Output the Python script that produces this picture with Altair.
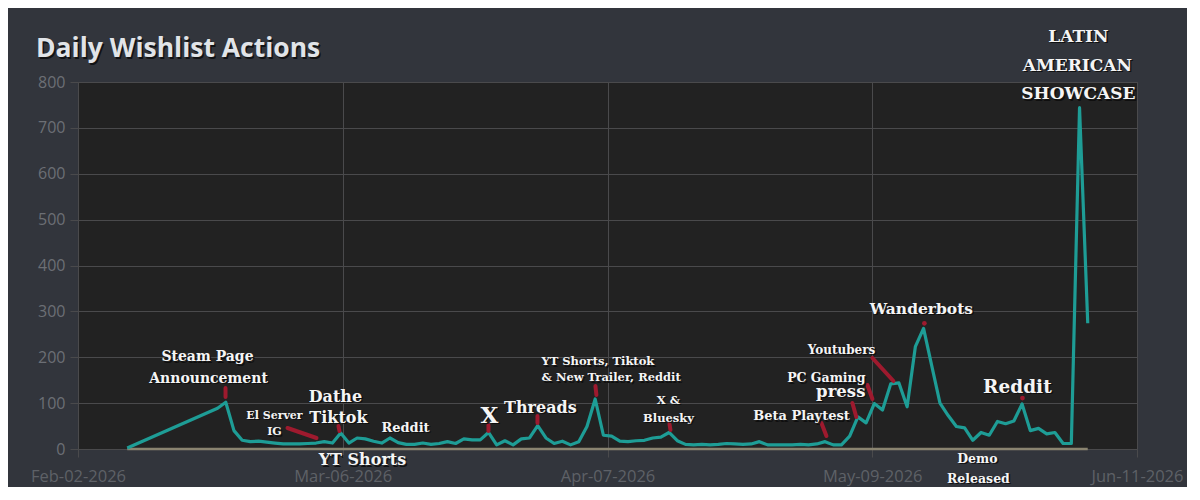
import altair as alt
import pandas as pd

# ---------------- data ----------------
START = pd.Timestamp("2026-02-02")

first_date = ["2026-02-08"]
first_value = [2]
daily_start = "2026-02-19"
daily_values = [
    89, 102, 40, 19, 16, 17, 15, 13, 11, 11, 11, 12, 13, 16, 13, 35, 13, 24, 22, 17,
    13, 24, 14, 10, 10, 13, 10, 12, 16, 12, 22, 20, 20, 36, 9, 18, 9, 22, 24, 51,
    24, 12, 17, 9, 16, 49, 109, 30, 28, 17, 16, 18, 19, 24, 26, 36, 18, 10, 9, 10,
    9, 10, 12, 11, 10, 11, 16, 9, 9, 9, 9, 10, 9, 11, 16, 9, 9, 28, 70, 57,
    99, 85, 142, 144, 92, 223, 263, 181, 100, 73, 49, 46, 19, 36, 30, 60, 55, 61, 98, 40,
    45, 33, 36, 12, 12, 744, 274,
]

baseline_dates = ["2026-02-08", "2026-06-05"]
baseline_values = [0, 0]

# tick positions (days after Feb-02, equally spaced)
tick_days = [0, 32.25, 64.5, 96.75, 129]
y_ticks = [0, 100, 200, 300, 400, 500, 600, 700, 800]

# annotations: text, day offset, value position, font size, alignment
ann_text = ["Steam Page", "Announcement", "El Server", "IG", "Dathe", "Tiktok", "Reddit",
            "YT Shorts", "X", "Threads", "YT Shorts, Tiktok", "& New Trailer, Reddit",
            "X &", "Bluesky", "Beta Playtest", "PC Gaming", "press", "Youtubers",
            "Wanderbots", "Reddit", "Demo", "Released", "LATIN", "AMERICAN", "SHOWCASE"]
ann_day = [15.77, 15.9, 23.93, 23.93, 31.36, 31.73, 39.89,
           34.65, 50.12, 56.33, 56.46, 56.46,
           71.93, 71.93, 88.13, 95.92, 95.92, 93.0,
           102.74, 114.43, 109.56, 109.68, 121.86, 121.74, 121.86]
ann_value = [191.8, 143.9, 65.4, 30.5, 102.5, 56.7, 37.1,
             -34.9, 56.7, 78.5, 183.1, 148.2,
             98.1, 58.9, 63.2, 146.0, 113.4, 207.1,
             294.3, 122.1, -30.5, -74.1, 887.2, 824.0, 762.9]
ann_size = [14, 14, 11, 11, 16, 16, 13,
            16, 23, 16, 11.5, 11.5,
            11.5, 11.5, 13, 12.5, 16.5, 12,
            15.5, 18.5, 12.5, 12.5, 17, 17, 17]
ann_align = ["center", "center", "center", "center", "center", "center", "center",
             "center", "center", "center", "left", "left",
             "center", "center", "center", "right", "right", "center",
             "center", "center", "center", "center", "center", "center", "center"]

# red marker strokes
mk_day1 = [17.97, 25.52, 31.73, 50.0, 55.97, 63.03, 72.05, 90.56, 94.33, 96.16, 96.77]
mk_val1 = [133.0, 45.8, 50.1, 52.3, 71.9, 137.3, 54.5, 56.7, 100.3, 139.5, 198.4]
mk_day2 = [17.97, 29.05, 31.85, 50.0, 55.97, 63.15, 72.17, 91.17, 94.81, 96.77, 99.33]
mk_val2 = [113.4, 24.0, 39.2, 39.2, 56.7, 117.7, 41.4, 28.3, 69.8, 109.0, 148.2]

dot_day = [103.1, 115.05]
dot_val = [274.0, 111.0]

# ---------------- frames ----------------
def day_to_ts(days):
    return [START + pd.to_timedelta(d, unit="D") for d in days]

line_dates = [pd.Timestamp(first_date[0])] + list(
    pd.date_range(daily_start, periods=len(daily_values), freq="D"))
line_df = pd.DataFrame({"t": line_dates, "v": first_value + daily_values})
base_df = pd.DataFrame({"t": pd.to_datetime(baseline_dates), "v": baseline_values})
ann_df = pd.DataFrame({"t": day_to_ts(ann_day), "v": ann_value, "text": ann_text,
                       "size": ann_size, "align": ann_align})
mk_df = pd.DataFrame({"t": day_to_ts(mk_day1), "v": mk_val1,
                      "t2": day_to_ts(mk_day2), "v2": mk_val2})
dot_df = pd.DataFrame({"t": day_to_ts(dot_day), "v": dot_val})

tick_ts = day_to_ts(tick_days)
tick_values = [alt.DateTime(year=t.year, month=t.month, date=t.day, hours=t.hour)
               for t in tick_ts]

GRID = "#4a4a4c"
xscale = alt.Scale(domain=[alt.DateTime(year=2026, month=2, date=2),
                           alt.DateTime(year=2026, month=6, date=11)])
yscale = alt.Scale(domain=[0, 800], nice=False)

xaxis = alt.Axis(values=tick_values, format="%b-%d-%Y", title=None, grid=True,
                 gridColor=GRID, tickColor=GRID, tickSize=8, domainColor=GRID,
                 labelColor="#5e6167", labelFontSize=16.5, labelFont="Open Sans",
                 labelPadding=11, labelFlush=False, labelOverlap=False)
yaxis = alt.Axis(values=y_ticks, title=None, grid=True, gridColor=GRID,
                 tickColor=GRID, tickSize=8, domain=False,
                 labelColor="#6c6f75", labelFontSize=16, labelFont="Open Sans",
                 labelPadding=5)

X = alt.X("t:T", scale=xscale, axis=xaxis)
Y = alt.Y("v:Q", scale=yscale, axis=yaxis)

base = alt.Chart(base_df).mark_line(color="#8a8470", strokeWidth=2.5).encode(x=X, y=Y)
line = alt.Chart(line_df).mark_line(color="#1e9d96", strokeWidth=3.2,
                                    strokeJoin="round").encode(x=X, y=Y)
marks = alt.Chart(mk_df).mark_rule(color="#9e1a2e", strokeWidth=4,
                                   strokeCap="round").encode(
    x=X, y=Y, x2="t2:T", y2="v2:Q")
dots = alt.Chart(dot_df).mark_circle(color="#9e1a2e", size=22, opacity=1).encode(x=X, y=Y)

text_layers = []
for al in ["center", "left", "right"]:
    sub = ann_df[ann_df["align"] == al]
    for shadow in (True, False):
        m = alt.Chart(sub).mark_text(
            align=al, baseline="alphabetic", font="DejaVu Serif", fontWeight="bold",
            color="#0c0c0c" if shadow else "#f5f5f5",
            dx=1.5 if shadow else 0, dy=1.5 if shadow else 0,
            opacity=0.85 if shadow else 1,
        ).encode(x=X, y=Y, text="text:N", size=alt.Size("size:Q", scale=None, legend=None))
        text_layers.append(m)

title_df = pd.DataFrame({"t": ["Daily Wishlist Actions"]})
title_shadow = alt.Chart(title_df).mark_text(
    align="left", baseline="alphabetic", fontSize=26.5, fontWeight="bold",
    font="Open Sans", color="#111214", dx=1.5, dy=1.5
).encode(x=alt.value(-42), y=alt.value(-25), text="t:N")
title = alt.Chart(title_df).mark_text(
    align="left", baseline="alphabetic", fontSize=26.5, fontWeight="bold",
    font="Open Sans", color="#e1e4e8"
).encode(x=alt.value(-42), y=alt.value(-25), text="t:N")

chart = alt.layer(base, line, marks, dots, *text_layers, title_shadow, title).properties(
    width=1059, height=367,
    background="#32353c",
    padding={"left": 70, "top": 74, "right": 50, "bottom": 38},
    autosize="none",
).configure_view(fill="#222222", stroke=GRID)

chart.save("out.html", embed_options={"renderer": "svg", "actions": False})
